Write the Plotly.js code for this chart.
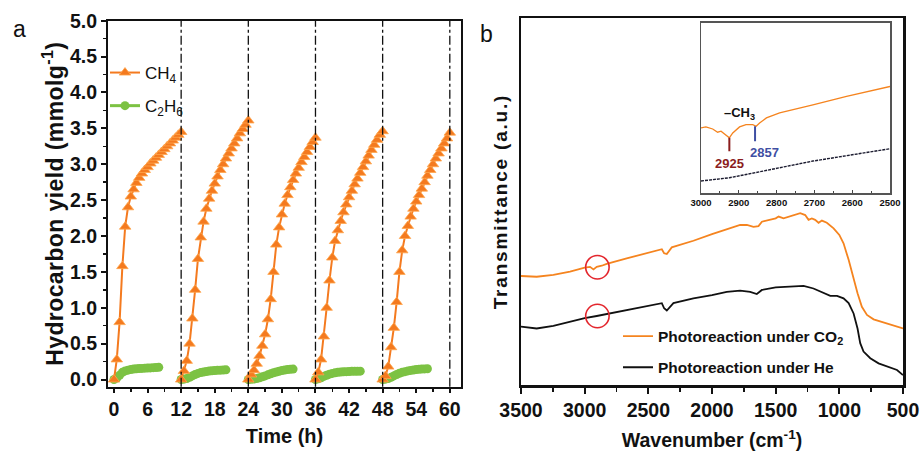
<!DOCTYPE html>
<html>
<head>
<meta charset="utf-8">
<script src="https://cdn.plot.ly/plotly-3.0.1.min.js"></script>
<style>
  html, body { margin: 0; padding: 0; background: #fff; }
  #chart { width: 921px; height: 451px; }
  text.ytitle { letter-spacing: 0.4px; }
  text.y2title { letter-spacing: 1.8px; }
</style>
</head>
<body>
<div id="chart"></div>
<script>
// ---------------- Panel a data ----------------
const cycleStarts = [0, 12, 24, 36, 48];
const ch4Steps = [0, 0.5, 1, 1.5, 2, 2.5, 3, 3.5, 4, 4.5, 5, 5.5, 6, 6.5, 7, 7.5, 8, 8.5, 9, 9.5, 10, 10.5, 11, 11.5, 12];
const ch4Cycle1 = [0, 0.28, 0.80, 1.58, 2.13, 2.40, 2.55, 2.65, 2.74, 2.81, 2.87, 2.92, 2.96, 3.01, 3.05, 3.09, 3.13, 3.17, 3.21, 3.25, 3.29, 3.33, 3.37, 3.41, 3.45];
const ch4Cycle2 = [0, 0.12, 0.26, 0.50, 0.85, 1.25, 1.68, 1.98, 2.20, 2.38, 2.52, 2.63, 2.73, 2.83, 2.92, 3.00, 3.08, 3.15, 3.22, 3.29, 3.36, 3.43, 3.49, 3.55, 3.61];
const ch4Cycle3 = [0, 0.07, 0.13, 0.22, 0.33, 0.47, 0.63, 0.84, 1.12, 1.50, 1.88, 2.12, 2.30, 2.45, 2.57, 2.68, 2.78, 2.87, 2.95, 3.03, 3.10, 3.17, 3.24, 3.31, 3.37];
const ch4Cycle4 = [0, 0.10, 0.28, 0.60, 1.00, 1.38, 1.70, 1.93, 2.08, 2.21, 2.33, 2.44, 2.54, 2.63, 2.72, 2.80, 2.88, 2.96, 3.04, 3.12, 3.20, 3.27, 3.34, 3.41, 3.46];
const ch4Cycle5 = [0, 0.05, 0.18, 0.45, 0.72, 1.08, 1.50, 1.80, 2.00, 2.14, 2.27, 2.38, 2.48, 2.57, 2.66, 2.75, 2.84, 2.92, 3.00, 3.08, 3.15, 3.22, 3.29, 3.36, 3.44];

const c2h6Steps = [0, 0.5, 1, 1.5, 2, 2.5, 3, 3.5, 4, 4.5, 5, 5.5, 6, 6.5, 7, 7.5, 8];
const c2h6Cycle1 = [0, 0.02, 0.06, 0.10, 0.12, 0.13, 0.14, 0.145, 0.15, 0.152, 0.155, 0.158, 0.16, 0.162, 0.165, 0.167, 0.17];
const c2h6Cycle2 = [0, 0.005, 0.015, 0.03, 0.05, 0.07, 0.085, 0.097, 0.105, 0.112, 0.118, 0.122, 0.125, 0.128, 0.13, 0.132, 0.135];
const c2h6Cycle3 = [0, 0.003, 0.008, 0.015, 0.025, 0.037, 0.05, 0.065, 0.08, 0.095, 0.105, 0.115, 0.125, 0.132, 0.138, 0.142, 0.145];
const c2h6Cycle4 = [0, 0.01, 0.025, 0.045, 0.06, 0.075, 0.085, 0.093, 0.10, 0.105, 0.108, 0.11, 0.112, 0.114, 0.115, 0.116, 0.117];
const c2h6Cycle5 = [0, 0.005, 0.015, 0.03, 0.05, 0.07, 0.088, 0.10, 0.11, 0.12, 0.127, 0.133, 0.138, 0.142, 0.145, 0.148, 0.15];

const cycleMarkers = [12, 24, 36, 48, 60];
const timeTicks = [0, 6, 12, 18, 24, 30, 36, 42, 48, 54, 60];

// ---------------- Panel b data ----------------
const wnCO2 = [3500, 3377, 3246, 3115, 3000, 2958, 2931, 2905, 2866, 2827, 2670, 2500, 2394, 2376, 2355, 2316, 2146, 2000, 1884, 1779, 1726, 1674, 1635, 1608, 1500, 1477, 1438, 1359, 1307, 1268, 1242, 1216, 1190, 1163, 1137, 1098, 1045, 1000, 967, 927, 888, 857, 823, 783, 731, 678, 600, 500];
const tCO2 = [29.7, 29.5, 30.0, 30.9, 32.0, 32.2, 31.5, 32.2, 32.5, 33.0, 34.5, 36.1, 37.0, 35.9, 35.7, 37.5, 39.3, 41.1, 42.4, 43.6, 43.6, 43.1, 43.3, 44.5, 45.4, 45.9, 45.4, 46.3, 46.8, 46.3, 45.0, 45.4, 45.0, 44.2, 44.8, 44.2, 42.7, 40.9, 38.6, 34.1, 28.6, 25.0, 21.3, 19.1, 17.9, 17.3, 16.6, 15.4];
const wnHe = [3500, 3377, 3246, 3115, 3000, 2905, 2670, 2500, 2394, 2376, 2355, 2303, 2146, 2000, 1884, 1779, 1700, 1648, 1608, 1500, 1359, 1281, 1203, 1124, 1071, 1018, 967, 927, 888, 857, 836, 810, 757, 692, 626, 547, 500];
const tHe = [15.9, 15.4, 16.1, 17.3, 18.2, 18.8, 20.4, 21.5, 22.3, 20.9, 20.3, 22.3, 23.6, 24.5, 25.4, 25.7, 25.4, 24.8, 25.9, 26.6, 26.8, 27.0, 26.3, 25.0, 24.3, 24.3, 23.6, 22.3, 19.5, 15.4, 11.4, 9.1, 7.3, 5.9, 5.0, 4.1, 2.7];
const wnTicks = [3500, 3000, 2500, 2000, 1500, 1000, 500];

// inset (3000-2500 cm-1)
const wnInsetCO2 = [3000, 2987, 2969, 2956, 2947, 2934, 2925, 2916, 2898, 2881, 2863, 2854, 2845, 2827, 2792, 2704, 2615, 2500];
const tInsetCO2 = [38.3, 38.9, 37.7, 35.8, 36.4, 34.4, 32.5, 35.4, 38.9, 40.3, 40.3, 39.3, 41.2, 44.2, 47.1, 51.9, 56.8, 62.6];
const wnInsetHe = [3000, 2925, 2836, 2704, 2500];
const tInsetHe = [7.2, 9.1, 13.0, 18.9, 26.1];
const insetTicks = [3000, 2900, 2800, 2700, 2600, 2500];
const peakLabels = ['2925', '2857'];
const peakWn = [2925, 2857];

// highlight circles around the C-H region
const circleWn = 2900;
const circleCenters = [32.1, 18.8];

// ---------------- build ----------------
function withGaps(steps, cycles, starts) {
  const xs = [], ys = [];
  cycles.forEach((vals, i) => {
    vals.forEach((v, j) => { xs.push(starts[i] + steps[j]); ys.push(v); });
    if (i < cycles.length - 1) { xs.push(null); ys.push(null); }
  });
  return {xs, ys};
}
const ch4 = withGaps(ch4Steps, [ch4Cycle1, ch4Cycle2, ch4Cycle3, ch4Cycle4, ch4Cycle5], cycleStarts);
const c2h6 = withGaps(c2h6Steps, [c2h6Cycle1, c2h6Cycle2, c2h6Cycle3, c2h6Cycle4, c2h6Cycle5], cycleStarts);

const FONT = '"Liberation Sans", Arial, "Helvetica Neue", sans-serif';
const ORANGE = '#f47a1f';
const GREEN = '#7cc243';
const NB = '\u00a0';

const traces = [
  {x: c2h6.xs, y: c2h6.ys, xaxis: 'x', yaxis: 'y', name: 'C<sub>2</sub>H<sub>6</sub>', mode: 'lines+markers',
   line: {color: GREEN, width: 3}, marker: {symbol: 'circle', size: 9, color: GREEN}, connectgaps: false,
   legendrank: 2, legendgroup: 'g2'},
  {x: ch4.xs, y: ch4.ys, xaxis: 'x', yaxis: 'y', name: 'CH<sub>4</sub>', mode: 'lines+markers',
   line: {color: ORANGE, width: 2}, marker: {symbol: 'triangle-up', size: 10, color: ORANGE, line: {color: '#ffa64d', width: 0.8}},
   connectgaps: false, legendrank: 1, legendgroup: 'g1'},
  {x: wnCO2, y: tCO2, xaxis: 'x2', yaxis: 'y2', name: 'Photoreaction under CO<sub>2</sub>', mode: 'lines',
   line: {color: '#f5841f', width: 1.8}, legend: 'legend2', legendgroup: 'g3'},
  {x: wnHe, y: tHe, xaxis: 'x2', yaxis: 'y2', name: 'Photoreaction under He', mode: 'lines',
   line: {color: '#111111', width: 1.8}, legend: 'legend2', legendgroup: 'g4'},
  {x: wnInsetCO2, y: tInsetCO2, xaxis: 'x3', yaxis: 'y3', mode: 'lines', showlegend: false,
   line: {color: '#f5841f', width: 1.3}},
  {x: wnInsetHe, y: tInsetHe, xaxis: 'x3', yaxis: 'y3', mode: 'lines', showlegend: false,
   line: {color: '#1c1c30', width: 1.4, dash: '3px,1px'}}
];

const shapes = [];
cycleMarkers.forEach(t => shapes.push({type: 'line', xref: 'x', yref: 'y domain', x0: t, x1: t, y0: 0, y1: 1,
  line: {color: '#111', width: 1.3, dash: 'dashdot'}}));
circleCenters.forEach(c => shapes.push({type: 'circle', xref: 'x2', yref: 'y2',
  x0: circleWn + 92, x1: circleWn - 92, y0: c - 3.2, y1: c + 3.2, line: {color: '#e3262d', width: 1.6}}));
shapes.push({type: 'line', xref: 'x3', yref: 'y3', x0: peakWn[0], x1: peakWn[0], y0: 24.7, y1: 32.5, line: {color: '#8b1d1d', width: 2}});
shapes.push({type: 'line', xref: 'x3', yref: 'y3', x0: peakWn[1], x1: peakWn[1], y0: 30.5, y1: 39.3, line: {color: '#3f4fa3', width: 2}});

const annotations = [
  {text: 'a', xref: 'paper', yref: 'paper', x: 11/921, y: 1 - 29/451, xanchor: 'left', yanchor: 'middle', showarrow: false,
   font: {family: FONT, size: 23, color: '#111'}},
  {text: 'b', xref: 'paper', yref: 'paper', x: 478/921, y: 1 - 34/451, xanchor: 'left', yanchor: 'middle', showarrow: false,
   font: {family: FONT, size: 23, color: '#111'}},
  {text: peakLabels[0], xref: 'x3', yref: 'y3', x: 2925, y: 17.5, showarrow: false,
   font: {family: FONT, size: 13, weight: 'bold', color: '#8b1d1d'}},
  {text: peakLabels[1], xref: 'x3', yref: 'y3', x: 2832, y: 23.7, showarrow: false,
   font: {family: FONT, size: 13, weight: 'bold', color: '#3f4fa3'}},
  {text: '–CH<sub>3</sub>', xref: 'x3', yref: 'y3', x: 2898, y: 46.7, showarrow: false,
   font: {family: FONT, size: 13, weight: 'bold', color: '#111'}}
];

const tickFont = {family: FONT, size: 19.5, weight: 'bold', color: '#111'};

const layout = {
  width: 921, height: 451,
  margin: {l: 0, r: 0, t: 0, b: 0},
  paper_bgcolor: '#fff', plot_bgcolor: 'rgba(0,0,0,0)',
  font: {family: FONT, color: '#111'},
  xaxis: {domain: [108/921, 461/921], anchor: 'y', range: [-1.07, 62.0], tickvals: timeTicks,
    ticks: 'outside', ticklen: 4, tickwidth: 2, tickcolor: '#111', showline: true, linewidth: 2, linecolor: '#111', mirror: true,
    showgrid: false, zeroline: false, tickfont: tickFont,
    minor: {dtick: 3, tick0: 0, ticks: 'outside', ticklen: 3, tickwidth: 1.5, tickcolor: '#111', showgrid: false},
    title: {text: 'Time (h)', font: {family: FONT, size: 20, weight: 'bold', color: '#111'}, standoff: 10}},
  yaxis: {domain: [1 - 386.7/451, 1 - 20.7/451], anchor: 'x', range: [-0.1, 5.0], dtick: 0.5, tick0: 0, tickformat: '.1f',
    ticks: 'outside', ticklen: 5, tickwidth: 2, tickcolor: '#111', showline: true, linewidth: 2, linecolor: '#111', mirror: true,
    showgrid: false, zeroline: false, tickfont: tickFont,
    minor: {dtick: 0.25, tick0: 0, ticks: 'outside', ticklen: 3, tickwidth: 1.5, tickcolor: '#111', showgrid: false},
    title: {text: 'Hydrocarbon yield (mmolg<sup>-1</sup>)' + NB + NB + NB, font: {family: FONT, size: 23, weight: 'bold', color: '#111'}, standoff: 0}},
  xaxis2: {domain: [521/921, 903/921], anchor: 'y2', range: [3500, 500], tickvals: wnTicks,
    ticks: 'outside', ticklen: 6, tickwidth: 2, tickcolor: '#111', showline: true, linewidth: 2.5, linecolor: '#111', mirror: true,
    showgrid: false, zeroline: false, tickfont: tickFont,
    minor: {dtick: 250, tick0: 500, ticks: 'outside', ticklen: 4, tickwidth: 1.5, tickcolor: '#111', showgrid: false},
    title: {text: 'Wavenumber (cm<sup>-1</sup>)', font: {family: FONT, size: 19.5, weight: 'bold', color: '#111'}, standoff: 24}},
  yaxis2: {domain: [1 - 385/451, 1 - 18/451], anchor: 'x2', range: [0, 100], showticklabels: false, ticks: '',
    showline: true, linewidth: 2.5, linecolor: '#111', mirror: true, showgrid: false, zeroline: false,
    title: {text: 'Transmittance (a.u.)', font: {family: FONT, size: 19, weight: 'bold', color: '#111'}, standoff: 6}},
  xaxis3: {domain: [701/921, 890/921], anchor: 'y3', range: [3000, 2500], tickvals: insetTicks,
    ticks: 'inside', ticklen: 3, tickwidth: 1, tickcolor: '#444', showline: true, linewidth: 1.5, linecolor: '#555', mirror: true,
    showgrid: false, zeroline: false, tickfont: {family: FONT, size: 9.5, weight: 'bold', color: '#111'},
    minor: {dtick: 50, tick0: 2500, ticks: 'inside', ticklen: 2, tickwidth: 1, tickcolor: '#444', showgrid: false}},
  yaxis3: {domain: [1 - 193.3/451, 1 - 22.7/451], anchor: 'x3', range: [0, 100], showticklabels: false, ticks: '',
    showline: true, linewidth: 1.5, linecolor: '#555', mirror: true, showgrid: false, zeroline: false},
  legend: {x: 105/921, y: 1 - 55/451, xanchor: 'left', yanchor: 'top', bgcolor: 'rgba(0,0,0,0)', borderwidth: 0,
    font: {family: FONT, size: 17, color: '#111'}, tracegroupgap: 8, itemwidth: 30, traceorder: 'grouped'},
  legend2: {x: 618/921, y: 1 - 319.5/451, xanchor: 'left', yanchor: 'top', bgcolor: 'rgba(0,0,0,0)', borderwidth: 0,
    font: {family: FONT, size: 15.5, weight: 'bold', color: '#111'}, tracegroupgap: 8, itemwidth: 30, traceorder: 'grouped'},
  shapes: shapes,
  annotations: annotations
};

Plotly.newPlot('chart', traces, layout, {staticPlot: true, displayModeBar: false});
</script>
</body>
</html>
